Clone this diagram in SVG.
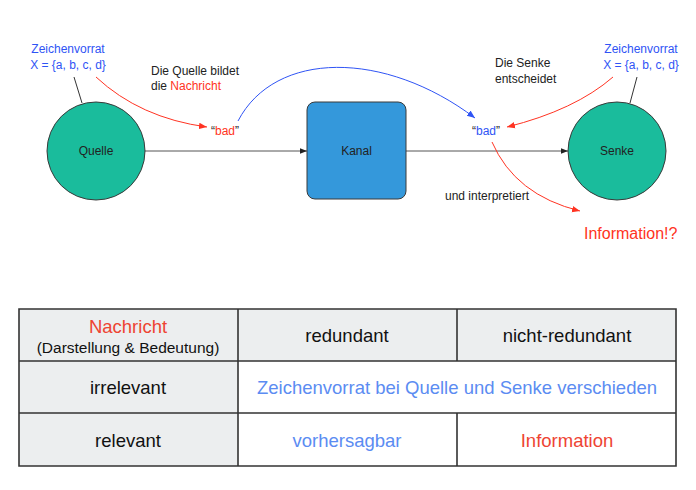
<svg xmlns="http://www.w3.org/2000/svg" width="696" height="490" viewBox="0 0 696 490">
<defs>
<style>
text{font-family:"Liberation Sans",Arial,Helvetica,sans-serif;}
.lbl{font-size:12px;fill:#222;}
.blue{fill:#2f54f5;}
.red{fill:#ff3322;}
.node{stroke:#3a3a3a;stroke-width:1;}
.conn{fill:none;stroke-width:1;}
.tb{font-size:18.5px;fill:#111;text-anchor:middle;}
.cell{fill:#eceeef;}
.grid{stroke:#333;stroke-width:1.6;fill:none;}
</style>
<marker id="ah-dark" viewBox="0 0 10 10" refX="10" refY="5" markerWidth="7" markerHeight="7" orient="auto" markerUnits="userSpaceOnUse"><path d="M0,1 L10,5 L0,9 z" fill="#222"/></marker>
<marker id="ah-red" viewBox="0 0 10 10" refX="10" refY="5" markerWidth="8" markerHeight="8" orient="auto" markerUnits="userSpaceOnUse"><path d="M0,1 L10,5 L0,9 z" fill="#ff3322"/></marker>
<marker id="ah-blue" viewBox="0 0 10 10" refX="10" refY="5" markerWidth="8" markerHeight="8" orient="auto" markerUnits="userSpaceOnUse"><path d="M0,1 L10,5 L0,9 z" fill="#2f54f5"/></marker>
</defs>
<rect width="696" height="490" fill="#fff"/>

<g id="connectors">
<line class="conn" x1="145" y1="151" x2="307" y2="151" stroke="#555" marker-end="url(#ah-dark)"/>
<line class="conn" x1="406" y1="151" x2="568" y2="151" stroke="#555" marker-end="url(#ah-dark)"/>
<line class="conn" x1="74" y1="77" x2="82" y2="103" stroke="#333"/>
<line class="conn" x1="637" y1="77" x2="630" y2="103" stroke="#333"/>
<path class="conn" d="M96,77 Q140,118 207,127" stroke="#ff3322" marker-end="url(#ah-red)"/>
<path class="conn" d="M238,121 C275,50 385,50 475,118" stroke="#2f54f5" marker-end="url(#ah-blue)"/>
<path class="conn" d="M613,77 Q575,110 507,127" stroke="#ff3322" marker-end="url(#ah-red)"/>
<path class="conn" d="M492,142 Q515,195 580,211" stroke="#ff3322" marker-end="url(#ah-red)"/>
</g>

<g id="quelle">
<circle class="node" cx="96" cy="151" r="49" fill="#1abc9c"/>
<text class="lbl" x="96" y="155" text-anchor="middle">Quelle</text>
</g>
<g id="kanal">
<rect class="node" x="307" y="102" width="99" height="97" rx="8" fill="#3498db"/>
<text class="lbl" x="356.5" y="155" text-anchor="middle">Kanal</text>
</g>
<g id="senke">
<circle class="node" cx="617" cy="151" r="49" fill="#1abc9c"/>
<text class="lbl" x="617" y="155" text-anchor="middle">Senke</text>
</g>

<g id="labels">
<text class="lbl blue" x="68" y="53" text-anchor="middle">Zeichenvorrat</text>
<text class="lbl blue" x="68" y="69" text-anchor="middle">X = {a, b, c, d}</text>
<text class="lbl" x="151" y="75">Die Quelle bildet</text>
<text class="lbl" x="151" y="90">die <tspan class="red">Nachricht</tspan></text>
<text class="lbl" x="211" y="135">“<tspan class="red">bad</tspan>”</text>
<text class="lbl" x="495" y="67">Die Senke</text>
<text class="lbl" x="495" y="83">entscheidet</text>
<text class="lbl blue" x="641" y="53" text-anchor="middle">Zeichenvorrat</text>
<text class="lbl blue" x="641" y="69" text-anchor="middle">X = {a, b, c, d}</text>
<text class="lbl" x="472" y="135">“<tspan class="blue">bad</tspan>”</text>
<text class="lbl" x="445" y="200">und interpretiert</text>
<text x="584" y="239" font-size="16" fill="#ff3322">Information!?</text>
</g>

<g id="table">
<rect class="cell" x="19" y="309" width="657" height="52"/>
<rect class="cell" x="19" y="361" width="219" height="105"/>
<path class="grid" d="M19,309 H676 V466 H19 Z M19,361 H676 M19,413 H676 M238,309 V466 M457,309 V361 M457,413 V466"/>
<text class="tb" x="128" y="333" fill="#ee4433" style="fill:#ee4433">Nachricht</text>
<text class="tb" x="128" y="353" font-size="15.5" style="font-size:15.5px">(Darstellung &amp; Bedeutung)</text>
<text class="tb" x="347" y="342">redundant</text>
<text class="tb" x="567" y="342">nicht-redundant</text>
<text class="tb" x="128" y="394">irrelevant</text>
<text class="tb" x="457" y="394" style="fill:#5b8cf2">Zeichenvorrat bei Quelle und Senke verschieden</text>
<text class="tb" x="128" y="447">relevant</text>
<text class="tb" x="347" y="447" style="fill:#5b8cf2">vorhersagbar</text>
<text class="tb" x="567" y="447" style="fill:#ee4433">Information</text>
</g>
</svg>
